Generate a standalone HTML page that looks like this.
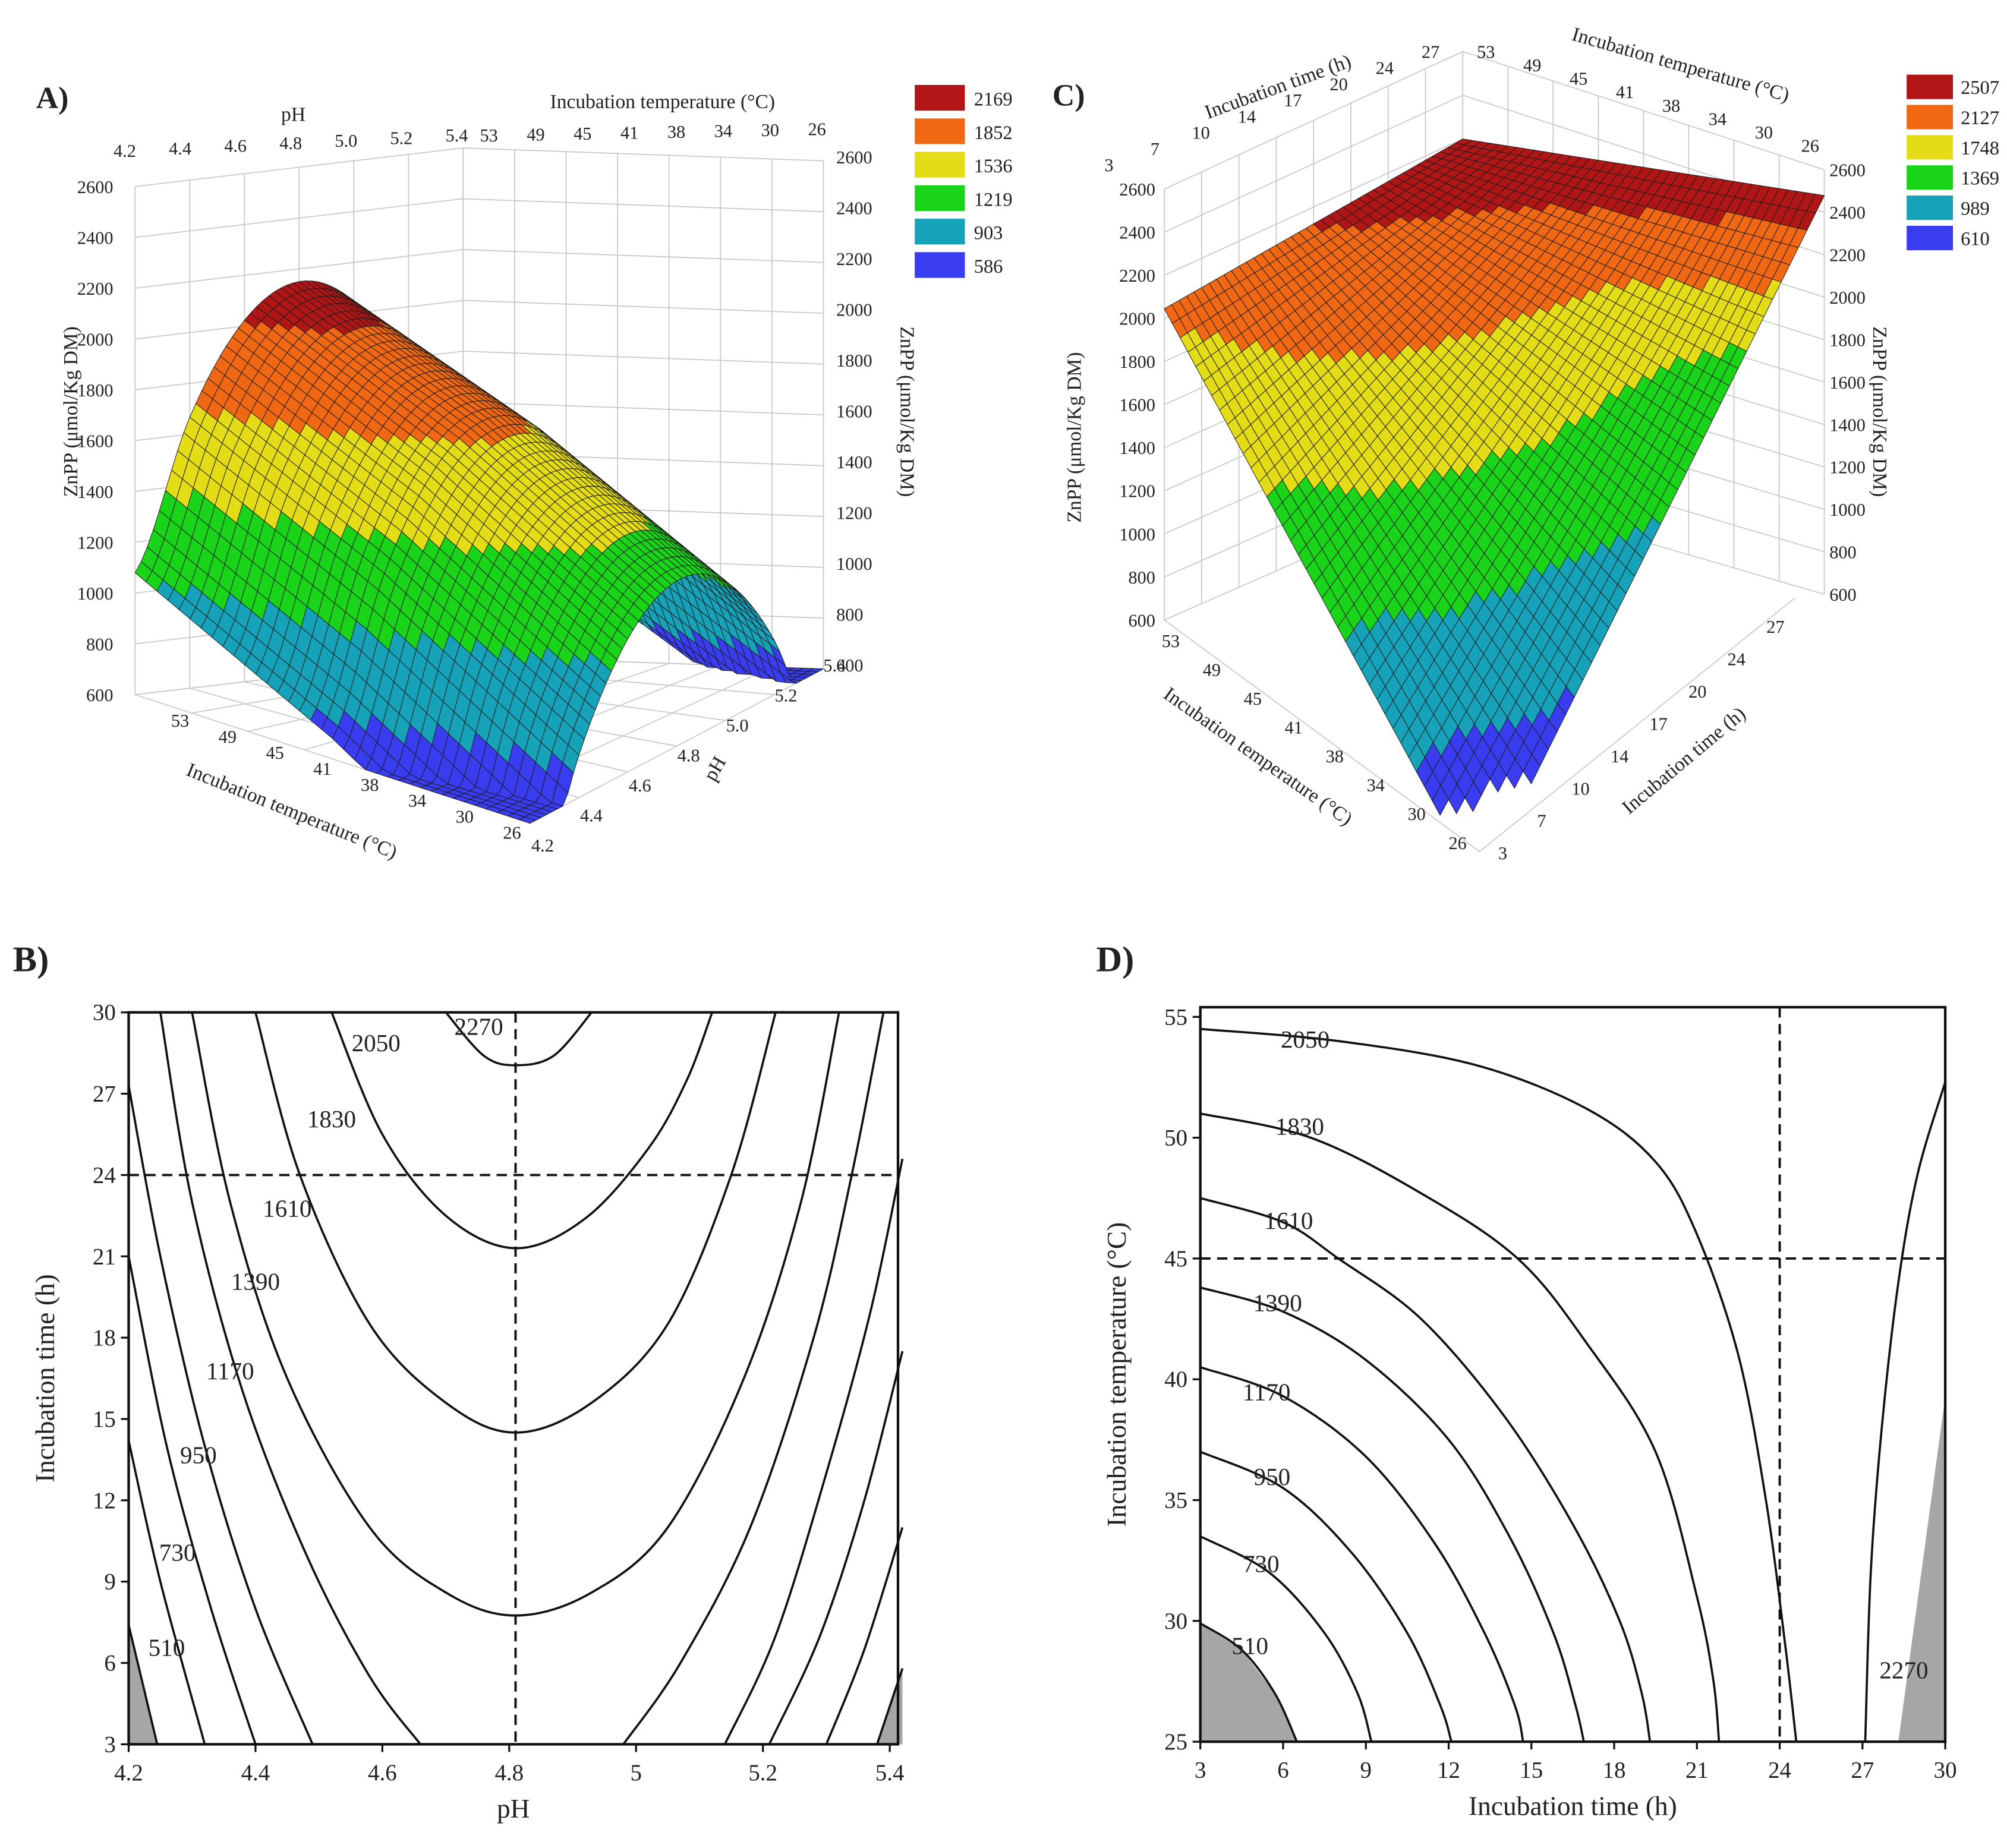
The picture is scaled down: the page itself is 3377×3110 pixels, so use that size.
<!DOCTYPE html>
<html><head><meta charset="utf-8">
<style>
html,body{margin:0;padding:0;background:#fff;}
svg{display:block;}
text{font-family:"Liberation Serif",serif;fill:#222;}
</style></head>
<body>
<svg id="fig" xmlns="http://www.w3.org/2000/svg" width="3377" height="3110" viewBox="0 0 1560 1436.6">
<rect x="0" y="0" width="1560" height="1436.6" fill="#fff"/>
<g id="panelA"></g>
<g id="panelC"></g>
<g id="panelB"></g>
<g id="panelD"></g>
</svg>
<script>
// ---------- DATA ----------
const aPH=[4.2,4.4,4.6,4.8,5.0,5.2,5.4];
const aTemp=[53,46.25,39.5,32.75,26];
const aZ=[
 [1080,1667,2023,2150,2046,1713,1149],
 [880,1467,1823,1950,1846,1513,949],
 [680,1267,1623,1750,1646,1313,749],
 [430,1017,1373,1500,1396,1063,499],
 [180,767,1123,1250,1146,813,249]];
const aLegend=[2169,1852,1536,1219,903,586];
const cTime=[7,12,17,22,27];
const cTemp=[53,47.25,41.5,35.75,30];
const cZ=[
 [2000,2180,2330,2450,2520],
 [1650,1880,2080,2260,2490],
 [1280,1550,1800,2040,2470],
 [880,1170,1460,1760,2460],
 [350,760,1120,1480,2450]];
const cLegend=[2507,2127,1748,1369,989,610];
const bandColors=["#b01616","#f06814","#e4dc16","#1ad41a","#16a2b8","#3a3cf0"];
const zTicks=[600,800,1000,1200,1400,1600,1800,2000,2200,2400,2600];
const aPHTicks=["4.2","4.4","4.6","4.8","5.0","5.2","5.4"];
const aTempTicks=["53","49","45","41","38","34","30","26"];
const cTimeTicks=["3","7","10","14","17","20","24","27"];
const cTempTicks=["53","49","45","41","38","34","30","26"];

// Panel B contours (pH, time)
const bLevels=["2270","2050","1830","1610","1390","1170","950","730","510"];
const bC2270=[[4.70,30],[4.76,28.4],[4.81,28.05],[4.87,28.4],[4.93,30]];
const bC2050=[[4.52,30],[4.60,25.5],[4.70,22.5],[4.81,21.3],[4.92,22.4],[5.02,25],[5.08,27.5],[5.12,30]];
const bC1830=[[4.40,30],[4.47,24],[4.58,18.5],[4.70,15.6],[4.81,14.5],[4.93,15.6],[5.05,18.5],[5.15,24],[5.22,30]];
const bC1610=[[4.30,30],[4.36,23],[4.45,16.5],[4.58,11],[4.70,8.6],[4.81,7.75],[4.93,8.6],[5.05,11],[5.17,16.5],[5.26,23],[5.32,30]];
const bC1390L=[[4.25,30],[4.30,23],[4.38,16],[4.48,10],[4.58,5.5],[4.66,3]];
const bC1390R=[[4.98,3],[5.07,6],[5.18,11],[5.28,18],[5.34,24],[5.39,30]];
const bC1170L=[[4.20,27.3],[4.25,21],[4.32,14],[4.40,8],[4.49,3]];
const bC1170R=[[5.14,3],[5.22,7],[5.30,13],[5.37,19],[5.42,24.6]];
const bC950L=[[4.20,21],[4.26,14],[4.33,8],[4.40,3]];
const bC950R=[[5.21,3],[5.29,7],[5.36,12],[5.42,17.5]];
const bC730L=[[4.20,14.2],[4.25,9],[4.32,3]];
const bC730R=[[5.30,3],[5.36,6.5],[5.42,11]];
const bC510L=[[4.20,7.4],[4.245,3]];
const bC510R=[[5.38,3],[5.42,5.8]];
const bGrayL=[[4.20,7.4],[4.245,3],[4.20,3]];
const bGrayR=[[5.38,3],[5.42,5.8],[5.42,3]];
const bLabelPos=[[4.752,29.5],[4.59,28.9],[4.52,26.1],[4.45,22.8],[4.40,20.1],[4.36,16.8],[4.31,13.7],[4.277,10.1],[4.26,6.6]];
const bXTicks=[4.2,4.4,4.6,4.8,5.0,5.2,5.4];
const bXLabels=["4.2","4.4","4.6","4.8","5","5.2","5.4"];
const bYTicks=[3,6,9,12,15,18,21,24,27,30];
const bOptPH=4.81, bOptTime=24;

// Panel D contours (time, temperature)
const dLevels=["2050","1830","1610","1390","1170","950","730","510","2270"];
const dC2050=[[3,54.5],[8,54],[13,53],[17,51.2],[19.5,49],[21,46],[22.5,41],[23.5,35],[24.2,29],[24.6,25]];
const dC1830=[[3,51],[7,50],[11,47.7],[14.5,45],[17,41.5],[19.5,37],[21,31],[21.6,27.5],[21.8,25]];
const dC1610=[[3,47.5],[6,46.5],[8,45],[11,42.5],[14,38.5],[16.5,34],[18.2,30],[19,27],[19.3,25]];
const dC1390=[[3,43.8],[6,42.8],[9,40.8],[12,37.5],[14.2,33.5],[15.8,29.5],[16.6,26.5],[16.9,25]];
const dC1170=[[3,40.5],[6,39.3],[9,36.8],[11.5,33.2],[13.3,29.5],[14.4,26.5],[14.7,25]];
const dC950=[[3,37],[6,35.5],[8.5,32.8],[10.5,29.5],[11.7,26.5],[12.1,25]];
const dC730=[[3,33.5],[5.5,32],[7.5,29.5],[8.7,27],[9.2,25]];
const dC510=[[3,29.9],[4.5,28.8],[5.7,27],[6.5,25]];
const dC2270=[[27.1,25],[27.3,32],[27.7,38],[28.3,44],[29,48.5],[30,52.3]];
const dGrayL=[[3,29.9],[4.5,28.8],[5.7,27],[6.5,25],[3,25]];
const dGrayR=[[28.3,25],[30,25],[30,39.3]];
const dLabelPos=[[6.8,54.1],[6.6,50.5],[6.2,46.6],[5.8,43.2],[5.4,39.5],[5.6,36.0],[5.2,32.4],[4.8,29.0],[28.5,28.0]];
const dXTicks=[3,6,9,12,15,18,21,24,27,30];
const dYTicks=[25,30,35,40,45,50,55];
const dOptTime=24, dOptTemp=45;

// ---------- HELPERS ----------
const NS="http://www.w3.org/2000/svg";
function mk(parent,tag,attrs,txt){const e=document.createElementNS(NS,tag);for(const k in attrs)e.setAttribute(k,attrs[k]);if(txt!==undefined)e.textContent=txt;parent.appendChild(e);return e;}
function nearestColor(z,levels){let bi=0,bd=1e9;for(let i=0;i<levels.length;i++){const d=Math.abs(z-levels[i]);if(d<bd){bd=d;bi=i;}}return bandColors[bi];}
function rowCubic(row,fi){const n=row.length-1;const i=Math.min(Math.max(fi,0),n);const i1=Math.min(Math.floor(i),n-1);const t=i-i1;
 const p0=row[Math.max(i1-1,0)],p1=row[i1],p2=row[i1+1],p3=row[Math.min(i1+2,n)];
 return 0.5*((2*p1)+(-p0+p2)*t+(2*p0-5*p1+4*p2-p3)*t*t+(-p0+3*p1-3*p2+p3)*t*t*t);}
function gridVal(g,fi,fj){const nj=g.length-1;const j=Math.min(Math.max(fj,0),nj);const j0=Math.min(Math.floor(j),nj-1);const dj=j-j0;
 return rowCubic(g[j0],fi)*(1-dj)+rowCubic(g[j0+1],fi)*dj;}
function bil(P00,P10,P01,P11,u,v){return [P00[0]*(1-u)*(1-v)+P10[0]*u*(1-v)+P01[0]*(1-u)*v+P11[0]*u*v,P00[1]*(1-u)*(1-v)+P10[1]*u*(1-v)+P01[1]*(1-u)*v+P11[1]*u*v];}
function smoothPath(pts){if(pts.length<3){return "M"+pts.map(p=>p[0].toFixed(2)+","+p[1].toFixed(2)).join("L");}
 let d="M"+pts[0][0].toFixed(2)+","+pts[0][1].toFixed(2);
 for(let i=0;i<pts.length-1;i++){const p0=pts[i-1]||pts[i],p1=pts[i],p2=pts[i+1],p3=pts[i+2]||p2;
  const c1=[p1[0]+(p2[0]-p0[0])/6,p1[1]+(p2[1]-p0[1])/6],c2=[p2[0]-(p3[0]-p1[0])/6,p2[1]-(p3[1]-p1[1])/6];
  d+="C"+c1[0].toFixed(2)+","+c1[1].toFixed(2)+" "+c2[0].toFixed(2)+","+c2[1].toFixed(2)+" "+p2[0].toFixed(2)+","+p2[1].toFixed(2);}
 return d;}

// ---------- PANEL A ----------
(function(){
 const g=document.getElementById('panelA');
 const F00=[105,540],F10=[360,510],F01=[412,640],F11=[640,520];
 const zs=0.1975;
 const zy=(z)=>(z-600)*zs;
 const wall=mk(g,'g',{stroke:'#c8c8c8','stroke-width':0.8,fill:'none'});
 
 
 zTicks.forEach(z=>{mk(wall,'polyline',{points:`${F00[0]},${F00[1]-zy(z)} ${F10[0]},${F10[1]-zy(z)} ${F11[0]},${F11[1]-zy(z)}`});});
 for(let i=0;i<aPHTicks.length;i++){const p=bil(F00,F10,F01,F11,i/6,0);mk(wall,'line',{x1:p[0],y1:p[1],x2:p[0],y2:p[1]-zy(2600)});
   const q=bil(F00,F10,F01,F11,i/6,1);mk(wall,'line',{x1:p[0],y1:p[1],x2:q[0],y2:q[1]});}
 for(let j=0;j<aTempTicks.length;j++){const p=bil(F00,F10,F01,F11,1,j/7);mk(wall,'line',{x1:p[0],y1:p[1],x2:p[0],y2:p[1]-zy(2600)});
   const q=bil(F00,F10,F01,F11,0,j/7);mk(wall,'line',{x1:p[0],y1:p[1],x2:q[0],y2:q[1]});}
 const NU=54,NV=36;const quads=[];
 for(let i=0;i<NU;i++)for(let j=0;j<NV;j++){
  const pts=[[i,j],[i+1,j],[i+1,j+1],[i,j+1]].map(([a,b])=>{const u=a/NU,v=b/NV;const z=gridVal(aZ,u*6,v*4);const f=bil(F00,F10,F01,F11,u,v);return [f[0],f[1]-zy(Math.max(z,600))];});
  const zc=gridVal(aZ,(i+.5)/NU*6,(j+.5)/NV*4);
  quads.push({d:((j+.5)/NV)-((i+.5)/NU),pts,col:nearestColor(Math.max(zc,586),aLegend)});}
 quads.sort((a,b)=>a.d-b.d);
 const sg=mk(g,'g',{stroke:'#1a1a1a','stroke-width':0.45,'stroke-linejoin':'round'});
 
 
 quads.forEach(q=>{const p=mk(sg,'polygon',{points:q.pts.map(p=>p[0].toFixed(2)+','+p[1].toFixed(2)).join(' '),fill:q.col});
  
  });
 const tl=mk(g,'g',{'font-size':14});
 
 
 zTicks.forEach((z,k)=>{mk(tl,'text',{x:88,y:F00[1]-zy(z)+5,'text-anchor':'end'},String(z));
   mk(tl,'text',{x:650,y:F11[1]-zy(z)+2},String(z));});
 aPHTicks.forEach((t,i)=>{const x=97+i*(355-97)/6,y=122-i*2;mk(tl,'text',{x:x,y:y,'text-anchor':'middle'},t);
   const bx=405+i*(632-405)/6,by=662-i*(662-522)/6;mk(tl,'text',{x:bx+8,y:by,'text-anchor':'start'},t);});
 aTempTicks.forEach((t,j)=>{const x=380+j*(635-380)/7,y=110-j*0.7;mk(tl,'text',{x:x,y:y,'text-anchor':'middle'},t);
   const bx=140+j*(398-140)/7,by=565+j*(652-565)/7;mk(tl,'text',{x:bx,y:by,'text-anchor':'middle'},t);});
 const tt=mk(g,'g',{'font-size':15.5});
 
 
 mk(tt,'text',{x:228,y:94,'text-anchor':'middle'},'pH');
 mk(tt,'text',{x:515,y:84,'text-anchor':'middle'},'Incubation temperature (°C)');
 mk(tt,'text',{x:0,y:0,'text-anchor':'middle',transform:'translate(60,320) rotate(-90)'},'ZnPP (μmol/Kg DM)');
 mk(tt,'text',{x:0,y:0,'text-anchor':'middle',transform:'translate(700,320) rotate(90)'},'ZnPP (μmol/Kg DM)');
 mk(tt,'text',{x:0,y:0,'text-anchor':'middle',transform:'translate(225,635) rotate(22)'},'Incubation temperature (°C)');
 mk(tt,'text',{x:0,y:0,'text-anchor':'middle',transform:'translate(560,600) rotate(-60)'},'pH');
 const pl=mk(g,'text',{x:28,y:84,'font-size':24,'font-weight':'bold'},'A)');
 
 
 const lg=mk(g,'g',{'font-size':15});
 
 
 aLegend.forEach((v,i)=>{const r=mk(lg,'rect',{x:711,y:66+i*26,width:39,height:20,fill:bandColors[i]});
   
   
   mk(lg,'text',{x:757,y:82+i*26},String(v));});
})();

// ---------- PANEL C ----------
(function(){
 const g=document.getElementById('panelC');
 const zs=0.1675;
 const yL=z=>482-(z-600)*zs, yB=z=>380-(z-600)*0.17, yR=z=>462-(z-600)*0.165;
 const wall=mk(g,'g',{stroke:'#c8c8c8','stroke-width':0.8,fill:'none'});
 
 
 zTicks.forEach(z=>{mk(wall,'polyline',{points:`905,${yL(z)} 1137,${yB(z)} 1418,${yR(z)}`});});
 mk(wall,'line',{x1:905,y1:yL(600),x2:905,y2:yL(2600)});
 mk(wall,'line',{x1:1137,y1:yB(600),x2:1137,y2:yB(2600)});
 mk(wall,'line',{x1:1418,y1:yR(600),x2:1418,y2:yR(2600)});
 for(let k=1;k<8;k++){const x=905+k*(1137-905)/8;const f=k/8;mk(wall,'line',{x1:x,y1:yL(600)+(yB(600)-yL(600))*f,x2:x,y2:yL(2600)+(yB(2600)-yL(2600))*f});
   const x2=1137+k*(1418-1137)/8;mk(wall,'line',{x1:x2,y1:yB(600)+(yR(600)-yB(600))*f,x2:x2,y2:yB(2600)+(yR(2600)-yB(2600))*f});}
 mk(wall,'polyline',{points:`905,482 1150,662 1395,465`});
 const L=[905,240],B=[1137,108],R=[1418,152],F=[1150,690];
 const NA=40,NB=40;
 const sg=mk(g,'g',{stroke:'#1a1a1a','stroke-width':0.45,'stroke-linejoin':'round'});
 
 
 for(let i=0;i<NA;i++)for(let j=0;j<NB;j++){
  const zc=gridVal(cZ,(i+.5)/NA*4,(j+.5)/NB*4);
  if(zc<600)continue;
  const pts=[[i,j],[i+1,j],[i+1,j+1],[i,j+1]].map(([a,b])=>bil(L,B,F,R,a/NA,b/NB));
  const p=mk(sg,'polygon',{points:pts.map(p=>p[0].toFixed(2)+','+p[1].toFixed(2)).join(' '),fill:nearestColor(zc,cLegend)});
  
  }
 const tl=mk(g,'g',{'font-size':14});
 
 
 zTicks.forEach(z=>{mk(tl,'text',{x:898,y:yL(z)+5,'text-anchor':'end'},String(z));
   mk(tl,'text',{x:1422,y:yR(z)+5},String(z));});
 cTimeTicks.forEach((t,i)=>{mk(tl,'text',{x:862+i*(1112-862)/7,y:133-i*(133-45)/7,'text-anchor':'middle'},t);
   mk(tl,'text',{x:1168+i*(1380-1168)/7,y:668-i*(668-492)/7,'text-anchor':'middle'},t);});
 cTempTicks.forEach((t,i)=>{mk(tl,'text',{x:1155+i*(1407-1155)/7,y:45+i*(118-45)/7,'text-anchor':'middle'},t);
   mk(tl,'text',{x:910+i*(1133-910)/7,y:503+i*(660-503)/7,'text-anchor':'middle'},t);});
 const tt=mk(g,'g',{'font-size':15.5});
 
 
 mk(tt,'text',{x:0,y:0,'text-anchor':'middle',transform:'translate(995,72) rotate(-20)'},'Incubation time (h)');
 mk(tt,'text',{x:0,y:0,'text-anchor':'middle',transform:'translate(1305,55) rotate(16)'},'Incubation temperature (°C)');
 mk(tt,'text',{x:0,y:0,'text-anchor':'middle',transform:'translate(840,340) rotate(-90)'},'ZnPP (μmol/Kg DM)');
 mk(tt,'text',{x:0,y:0,'text-anchor':'middle',transform:'translate(1456,320) rotate(90)'},'ZnPP (μmol/Kg DM)');
 mk(tt,'text',{x:0,y:0,'text-anchor':'middle',transform:'translate(975,592) rotate(35)'},'Incubation temperature (°C)');
 mk(tt,'text',{x:0,y:0,'text-anchor':'middle',transform:'translate(1312,595) rotate(-40)'},'Incubation time (h)');
 const pl=mk(g,'text',{x:818,y:82,'font-size':24,'font-weight':'bold'},'C)');
 
 
 const lg=mk(g,'g',{'font-size':15});
 
 
 cLegend.forEach((v,i)=>{const r=mk(lg,'rect',{x:1482,y:58+i*23.5,width:36,height:19,fill:bandColors[i]});
   
   
   mk(lg,'text',{x:1524,y:73+i*23.5},String(v));});
})();

// ---------- CONTOUR PANELS ----------
function contourPanel(gid,box,xDom,yDom,curves,grays,labels,labelPos,xTicks,xLabels,yTicks,optX,optY,xTitle,yTitle,panelLabel,plx,prefix){
 const g=document.getElementById(gid);
 const X=v=>box.x0+(v-xDom[0])/(xDom[1]-xDom[0])*(box.x1-box.x0);
 const Y=v=>box.y1-(v-yDom[0])/(yDom[1]-yDom[0])*(box.y1-box.y0);
 grays.forEach(gr=>{const p=mk(g,'polygon',{points:gr.map(q=>X(q[0]).toFixed(2)+','+Y(q[1]).toFixed(2)).join(' '),fill:'#a6a6a6'});
   
   });
 curves.forEach(c=>{const p=mk(g,'path',{d:smoothPath(c.map(q=>[X(q[0]),Y(q[1])])),fill:'none',stroke:'#111','stroke-width':1.7});
   
   });
 const dv=mk(g,'line',{x1:X(optX),y1:box.y0,x2:X(optX),y2:box.y1,stroke:'#111','stroke-width':1.8,'stroke-dasharray':'8,5'});
 
 
 const dh=mk(g,'line',{x1:box.x0,y1:Y(optY),x2:box.x1,y2:Y(optY),stroke:'#111','stroke-width':1.8,'stroke-dasharray':'8,5'});
 
 
 labels.forEach((t,i)=>{const e=mk(g,'text',{x:X(labelPos[i][0]),y:Y(labelPos[i][1])+7,'font-size':19,'text-anchor':'middle'},t);
   
   });
 const fr=mk(g,'rect',{x:box.x0,y:box.y0,width:box.x1-box.x0,height:box.y1-box.y0,fill:'none',stroke:'#111','stroke-width':2});
 
 
 const ax=mk(g,'g',{'font-size':18,stroke:'none'});
 
 
 xTicks.forEach((v,i)=>{mk(ax,'line',{x1:X(v),y1:box.y1,x2:X(v),y2:box.y1+6,stroke:'#111','stroke-width':1.5});
   mk(ax,'text',{x:X(v),y:box.y1+28,'text-anchor':'middle'},xLabels[i]);});
 yTicks.forEach(v=>{mk(ax,'line',{x1:box.x0-6,y1:Y(v),x2:box.x0,y2:Y(v),stroke:'#111','stroke-width':1.5});
   mk(ax,'text',{x:box.x0-10,y:Y(v)+6,'text-anchor':'end'},String(v));});
 const xt=mk(g,'text',{x:(box.x0+box.x1)/2,y:box.y1+57,'font-size':21,'text-anchor':'middle'},xTitle);
 
 
 const yt=mk(g,'text',{x:0,y:0,'font-size':21,'text-anchor':'middle',transform:`translate(${box.x0-58},${(box.y0+box.y1)/2}) rotate(-90)`},yTitle);
 
 
 const pl=mk(g,'text',{x:plx,y:755,'font-size':28,'font-weight':'bold'},panelLabel);
 
 
}
contourPanel('panelB',{x0:100,x1:698,y0:787,y1:1356},[4.2,4.2+598/493],[3,30],
 [bC2270,bC2050,bC1830,bC1610,bC1390L,bC1390R,bC1170L,bC1170R,bC950L,bC950R,bC730L,bC730R,bC510L,bC510R],
 [bGrayL,bGrayR],bLevels,bLabelPos,bXTicks,bXLabels,bYTicks,bOptPH,bOptTime,'pH','Incubation time (h)','B)',10,'panel-b');
contourPanel('panelD',{x0:933,x1:1512,y0:783,y1:1354},[3,30],[25,55.4],
 [dC2050,dC1830,dC1610,dC1390,dC1170,dC950,dC730,dC510,dC2270],
 [dGrayL,dGrayR],dLevels,dLabelPos,dXTicks,dXTicks.map(String),dYTicks,dOptTime,dOptTemp,'Incubation time (h)','Incubation temperature (°C)','D)',852,'panel-d');
</script>
</body></html>
